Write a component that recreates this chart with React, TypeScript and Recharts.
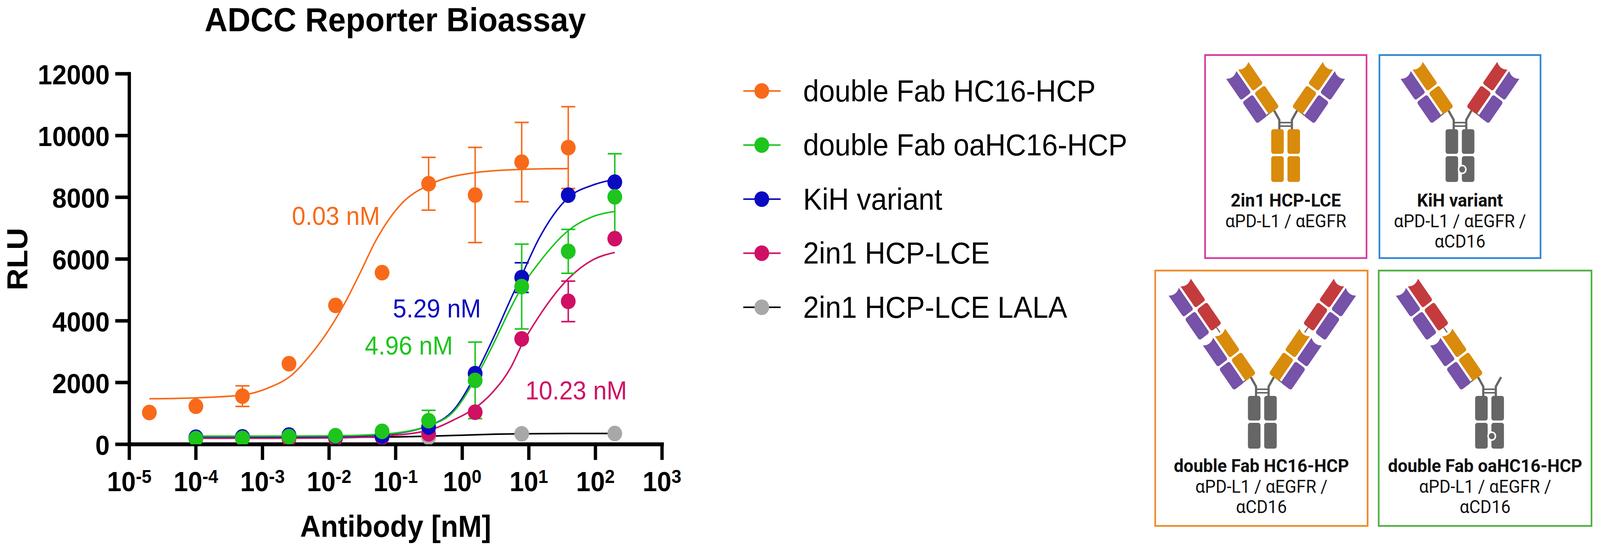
import React from 'react';
import {
  ComposedChart, Line, Scatter, XAxis, YAxis, ErrorBar, Legend, ReferenceDot, Label,
} from 'recharts';

const FONT = '"Liberation Sans", Arial, Helvetica, sans-serif';
const ROBOTO = 'Roboto, "Noto Sans", sans-serif';

const W = 4331;
const H = 1401;

const ORANGE = '#F86A1A';
const GREEN = '#1DC51D';
const BLUE = '#0A0AC2';
const MAGENTA = '#CF1065';
const GRAY = '#A8A8AA';

const xTicks = [1e-5, 1e-4, 1e-3, 1e-2, 1e-1, 1, 10, 100, 1000];
const yTicks = [0, 2000, 4000, 6000, 8000, 10000, 12000];

// measured points (nM, RLU) with SD
const concOrange = [2e-5, 1e-4, 5e-4, 2.5e-3, 0.0125, 0.0625, 0.3125, 1.5625, 7.8125, 39.0625];
const conc = [1e-4, 5e-4, 2.5e-3, 0.0125, 0.0625, 0.3125, 1.5625, 7.8125, 39.0625, 195.3125];
const concLala = [5e-4, 0.0125, 0.3125, 7.8125, 195.3125];

const orangeY = [1030, 1232, 1560, 2610, 4500, 5560, 8440, 8075, 9140, 9610];
const orangeErr = [null, null, 332, null, null, null, 855, 1540, 1285, 1325];
const greenY = [185, 195, 250, 280, 420, 765, 2070, 5110, 6250, 8015];
const greenErr = [null, null, null, null, null, 335, 1240, 1375, 710, 1395];
const blueY = [230, 240, 300, 260, 270, 560, 2290, 5400, 8070, 8490];
const blueErr = [null, null, null, null, null, null, null, 480, null, null];
const magentaY = [190, 195, 180, 190, 230, 340, 1040, 3415, 4630, 6660];
const magentaErr = [null, null, null, null, null, null, null, null, 655, null];
const lalaY = [200, 205, 230, 340, 350];

// fitted curves
const fitXOrange = [2e-5, 1e-4, 5e-4, 1.3e-3, 2.6e-3, 5.5e-3, 0.01, 0.018, 0.03, 0.049, 0.08, 0.13, 0.316, 1.58, 7.9, 39.06];
const fitOrange = [1475, 1505, 1595, 1850, 2200, 2950, 3720, 4650, 5600, 6550, 7300, 7850, 8400, 8800, 8905, 8930];
const fitX = [1e-4, 1e-3, 0.01, 0.063, 0.316, 0.76, 1.575, 2.95, 5.37, 7.87, 14.1, 39.8, 91, 195.3];
const fitBlue = [245, 245, 250, 310, 605, 1136, 2250, 3456, 4715, 5487, 6650, 8003, 8394, 8584];
const fitGreen = [265, 265, 275, 330, 605, 1087, 2124, 3262, 4425, 5101, 5873, 6936, 7374, 7539];
const fitMagenta = [195, 195, 205, 265, 458, 800, 1180, 1719, 2490, 3230, 4134, 5380, 5972, 6213];
const fitXLala = [5e-4, 0.01, 0.1, 0.316, 1, 3.16, 7.8, 39, 195.3];
const fitLala = [205, 225, 240, 262, 295, 328, 342, 350, 352];

// EC50 annotations
const annText = ['0.03 nM', '5.29 nM', '4.96 nM', '10.23 nM'];
const annX = [0.01268, 0.417, 0.158, 51.4];
const annY = [7105, 4109, 2908, 1454];
const annColor = [ORANGE, BLUE, GREEN, MAGENTA];

const legendNames = ['double Fab HC16-HCP', 'double Fab oaHC16-HCP', 'KiH variant', '2in1 HCP-LCE', '2in1 HCP-LCE LALA'];
const legendLine = [ORANGE, GREEN, BLUE, MAGENTA, '#000'];
const legendDot = [ORANGE, GREEN, BLUE, MAGENTA, GRAY];

const pts = (xs: number[], ys: number[], es?: (number | null)[]) =>
  xs.map((x, i) => ({ x, y: ys[i], e: es ? es[i] : null }));
const curve = (xs: number[], ys: number[]) => xs.map((x, i) => ({ x, y: ys[i] }));

// drawn bottom to top
const series = [
  { key: 'lala', line: '#000', dot: GRAY, points: pts(concLala, lalaY), fit: curve(fitXLala, fitLala) },
  { key: 'magenta', line: MAGENTA, dot: MAGENTA, points: pts(conc, magentaY, magentaErr), fit: curve(fitX, fitMagenta) },
  { key: 'blue', line: BLUE, dot: BLUE, points: pts(conc, blueY, blueErr), fit: curve(fitX, fitBlue) },
  { key: 'green', line: GREEN, dot: GREEN, points: pts(conc, greenY, greenErr), fit: curve(fitX, fitGreen) },
  { key: 'orange', line: ORANGE, dot: ORANGE, points: pts(concOrange, orangeY, orangeErr), fit: curve(fitXOrange, fitOrange) },
];

const dotShape = (color: string) => (p: any) => <circle cx={p.cx} cy={p.cy} r={20} fill={color} />;

const XTick = (props: any) => {
  const { x, y, payload } = props;
  const exp = Math.round(Math.log10(payload.value));
  return (
    <text x={x} y={y + 78} textAnchor="middle" fontFamily={FONT} fontWeight="bold" fontSize={70} fill="#000">
      <tspan>10</tspan>
      <tspan dy={-21} fontSize={48}>{exp}</tspan>
    </text>
  );
};

const YTick = (props: any) => {
  const { x, y, payload } = props;
  return (
    <text x={x} y={y} dy={27} textAnchor="end" fontFamily={FONT} fontWeight="bold" fontSize={70} fill="#000">
      {payload.value}
    </text>
  );
};

const renderLegend = () => (
  <svg width={1000} height={700} style={{ overflow: 'visible' }}>
    {legendNames.map((name, i) => {
      const cy = 53 + i * 138.5;
      return (
        <g key={name}>
          <line x1={22} x2={123} y1={cy} y2={cy} stroke={legendLine[i]} strokeWidth={4} />
          <circle cx={72} cy={cy} r={20} fill={legendDot[i]} />
          <text x={184} y={cy + 27} fontFamily={FONT} fontSize={77} fill="#000">{name}</text>
        </g>
      );
    })}
  </svg>
);

// ---- antibody cartoons for the right-hand panel ----
const PURPLE = '#7652A8';
const GOLD = '#D98B0B';
const RED = '#C43B3E';
const GREY = '#666666';
const DOM = 68;
const GAP = 6;
const LINK = 16;

function Domain({ x, y, color, notch }: { x: number; y: number; color: string; notch: boolean }) {
  // x = left edge, y = top edge (local frame, arm points to -y)
  const w = 34;
  if (!notch) return <rect x={x} y={y} width={w} height={DOM} rx={6} fill={color} />;
  const d = `M${x},${y + DOM - 6} Q${x},${y + DOM} ${x + 6},${y + DOM} L${x + w - 6},${y + DOM} Q${x + w},${y + DOM} ${x + w},${y + DOM - 6} L${x + w},${y} Q${x + w / 2},${y + 12} ${x},${y} Z`;
  return <path d={d} fill={color} />;
}

function Arm({ bx, by, side, heavy, light }: { bx: number; by: number; side: number; heavy: string[]; light: string[] }) {
  const starts: number[] = [];
  let t = 2;
  heavy.forEach((_, i) => {
    starts.push(t);
    t += DOM + (i % 2 === 0 ? GAP : LINK);
  });
  const lx = side < 0 ? -57 : 23;
  return (
    <g transform={`translate(${bx},${by}) rotate(${side * 36})`}>
      {heavy.length > 2 && (
        <line x1={0} x2={0} y1={-starts[1] - DOM} y2={-starts[2]} stroke={GREY} strokeWidth={3} />
      )}
      <line x1={lx + 17} x2={0} y1={-4} y2={-4} stroke={GREY} strokeWidth={3} />
      {heavy.map((c, i) => (
        <Domain key={'h' + i} x={-17} y={-starts[i] - DOM} color={c} notch={i % 2 === 1} />
      ))}
      {light.map((c, i) => (
        <Domain key={'l' + i} x={lx} y={-starts[i] - DOM} color={c} notch={i % 2 === 1} />
      ))}
    </g>
  );
}

function Antibody({ cx, top, kind }: { cx: number; top: number; kind: string }) {
  const fc = kind === '2in1' ? GOLD : GREY;
  const single = [PURPLE, PURPLE];
  const double = [PURPLE, PURPLE, PURPLE, PURPLE];
  const hinge = (s: number) => `M${s * 17},2 L${s * 17},-24 L${s * 30},-46`;
  return (
    <g transform={`translate(${cx},${top})`}>
      <path d={hinge(-1)} stroke={GREY} strokeWidth={6} fill="none" strokeLinecap="round" strokeLinejoin="round" />
      <path d={hinge(1)} stroke={GREY} strokeWidth={6} fill="none" strokeLinecap="round" strokeLinejoin="round" />
      <line x1={-17} x2={17} y1={-8} y2={-8} stroke={GREY} strokeWidth={4} />
      <line x1={-17} x2={17} y1={-17} y2={-17} stroke={GREY} strokeWidth={4} />
      <rect x={-39} y={0} width={34} height={63} rx={6} fill={fc} />
      <rect x={5} y={0} width={34} height={63} rx={6} fill={fc} />
      <rect x={-39} y={69} width={34} height={66} rx={6} fill={fc} />
      <rect x={5} y={69} width={34} height={66} rx={6} fill={fc} />
      {(kind === 'kih' || kind === 'oa') && (
        <circle cx={6} cy={103} r={10} fill={GREY} stroke="#fff" strokeWidth={4} />
      )}
      {kind === '2in1' && (
        <>
          <Arm bx={-30} by={-46} side={-1} heavy={[GOLD, GOLD]} light={single} />
          <Arm bx={30} by={-46} side={1} heavy={[GOLD, GOLD]} light={single} />
        </>
      )}
      {kind === 'kih' && (
        <>
          <Arm bx={-30} by={-46} side={-1} heavy={[GOLD, GOLD]} light={single} />
          <Arm bx={30} by={-46} side={1} heavy={[RED, RED]} light={single} />
        </>
      )}
      {kind === 'double' && (
        <>
          <Arm bx={-30} by={-46} side={-1} heavy={[GOLD, GOLD, RED, RED]} light={double} />
          <Arm bx={30} by={-46} side={1} heavy={[GOLD, GOLD, RED, RED]} light={double} />
        </>
      )}
      {kind === 'oa' && (
        <Arm bx={-30} by={-46} side={-1} heavy={[GOLD, GOLD, RED, RED]} light={double} />
      )}
    </g>
  );
}

const boxes = [
  { x: 3262, y: 141, w: 437, h: 520, color: '#D63A9E', cx: 3480, top: 331, kind: '2in1', title: '2in1 HCP-LCE', lines: ['αPD-L1 / αEGFR'] },
  { x: 3734, y: 141, w: 436, h: 520, color: '#2E86D4', cx: 3952, top: 331, kind: 'kih', title: 'KiH variant', lines: ['αPD-L1 / αEGFR /', 'αCD16'] },
  { x: 3127, y: 693, w: 575, h: 654, color: '#EE8A2A', cx: 3417, top: 1014, kind: 'double', title: 'double Fab HC16-HCP', lines: ['αPD-L1 / αEGFR /', 'αCD16'] },
  { x: 3732, y: 693, w: 576, h: 654, color: '#52AE45', cx: 4032, top: 1014, kind: 'oa', title: 'double Fab oaHC16-HCP', lines: ['αPD-L1 / αEGFR /', 'αCD16'] },
];

function Panel() {
  return (
    <svg width={W} height={H} style={{ position: 'absolute', left: 0, top: 0, pointerEvents: 'none' }}>
      <text x={1070} y={80} textAnchor="middle" fontFamily={FONT} fontWeight="bold" fontSize={86} fill="#000">
        ADCC Reporter Bioassay
      </text>
      {boxes.map((b) => {
        const base = b.y + b.h - (b.kind === '2in1' || b.kind === 'kih' ? 132 : 138);
        const mid = b.x + b.w / 2;
        return (
          <g key={b.title}>
            <rect x={b.x} y={b.y} width={b.w} height={b.h} fill="none" stroke={b.color} strokeWidth={4.5} />
            <Antibody cx={b.cx} top={b.top} kind={b.kind} />
            <text x={mid} y={base} textAnchor="middle" fontFamily={ROBOTO} fontWeight="bold" fontSize={47} fill="#111">
              {b.title}
            </text>
            {b.lines.map((l, i) => (
              <text key={l} x={mid} y={base + 53 + i * 52} textAnchor="middle" fontFamily={ROBOTO} fontSize={46} fill="#111">
                {l}
              </text>
            ))}
          </g>
        );
      })}
    </svg>
  );
}

export default function App() {
  // fit the 4331 x 1401 layout into whatever viewport the page really gets
  const vw = typeof window !== 'undefined' ? document.documentElement.clientWidth || window.innerWidth : W;
  const vh = typeof window !== 'undefined' ? document.documentElement.clientHeight || window.innerHeight : H;
  const sx = vw / W;
  const sy = vh / H;

  return (
    <div style={{ position: 'fixed', left: 0, top: 0, right: 0, bottom: 0, overflow: 'hidden', background: '#fff' }}>
      <div style={{ position: 'absolute', left: 0, top: 0, width: W, height: H, transformOrigin: '0 0', transform: `scale(${sx}, ${sy})` }}>
        <ComposedChart width={W} height={H} margin={{ top: 189, right: 2539, bottom: 63, left: 100 }}>
          <XAxis
            type="number"
            dataKey="x"
            scale="log"
            domain={[1e-5, 1000]}
            ticks={xTicks}
            interval={0}
            allowDataOverflow
            height={200}
            tickSize={40}
            tickMargin={2}
            tick={<XTick />}
            axisLine={{ stroke: '#000', strokeWidth: 10, strokeLinecap: 'square' }}
            tickLine={{ stroke: '#000', strokeWidth: 9 }}
          >
            <Label
              content={({ viewBox }: any) => (
                <text x={viewBox.x + viewBox.width / 2} y={viewBox.y + 237} textAnchor="middle"
                  fontFamily={FONT} fontWeight="bold" fontSize={77} fill="#000">
                  Antibody [nM]
                </text>
              )}
            />
          </XAxis>
          <YAxis
            type="number"
            domain={[0, 12000]}
            ticks={yTicks}
            interval={0}
            allowDataOverflow
            width={250}
            tickSize={38}
            tickMargin={15}
            tick={<YTick />}
            axisLine={{ stroke: '#000', strokeWidth: 9, strokeLinecap: 'square' }}
            tickLine={{ stroke: '#000', strokeWidth: 9 }}
          >
            <Label
              content={({ viewBox }: any) => {
                // baseline sits on the right, glyphs extend left after rotation
                const cx = viewBox.x - 26;
                const cy = viewBox.y + viewBox.height / 2;
                return (
                  <text x={cx} y={cy} transform={`rotate(-90, ${cx}, ${cy})`} textAnchor="middle"
                    fontFamily={FONT} fontWeight="bold" fontSize={78} fill="#000">
                    RLU
                  </text>
                );
              }}
            />
          </YAxis>

          {series.map((s) => [
            <Line
              key={s.key + '-fit'}
              data={s.fit}
              dataKey="y"
              type="monotone"
              stroke={s.line}
              strokeWidth={4}
              dot={false}
              activeDot={false}
              legendType="none"
              isAnimationActive={false}
            />,
            <Scatter
              key={s.key + '-pts'}
              data={s.points}
              dataKey="y"
              shape={dotShape(s.dot)}
              legendType="none"
              isAnimationActive={false}
            >
              <ErrorBar dataKey="e" direction="y" width={19} strokeWidth={4} stroke={s.dot} />
            </Scatter>,
          ])}

          {annText.map((t, i) => (
            <ReferenceDot
              key={t}
              x={annX[i]}
              y={annY[i]}
              r={0}
              ifOverflow="visible"
              shape={(p: any) => (
                <text x={p.cx} y={p.cy} textAnchor="middle" fontFamily={FONT} fontSize={66} fill={annColor[i]}>
                  {t}
                </text>
              )}
            />
          ))}

          <Legend
            layout="vertical"
            align="center"
            verticalAlign="middle"
            content={renderLegend}
            wrapperStyle={{ left: 1990, top: 180, width: 1000, height: 700 }}
          />
        </ComposedChart>
        <Panel />
      </div>
    </div>
  );
}
